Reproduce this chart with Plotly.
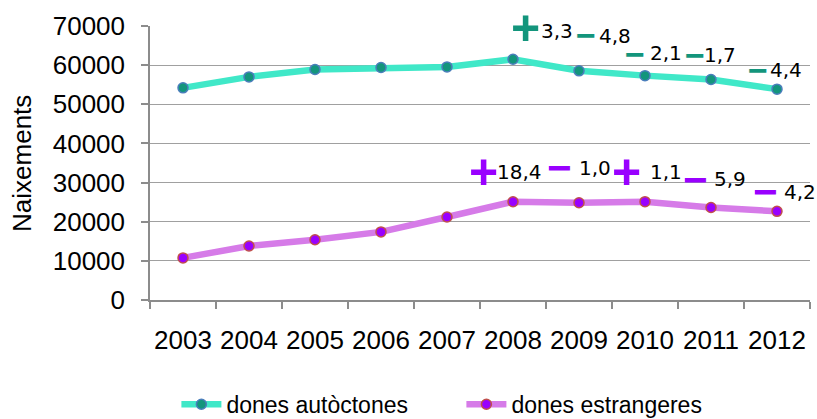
import plotly.graph_objects as go

years = ["2003", "2004", "2005", "2006", "2007", "2008", "2009", "2010", "2011", "2012"]
autoctones = [54200, 57000, 58900, 59400, 59550, 61500, 58550, 57320, 56345, 53870]
estrangeres = [10750, 13800, 15400, 17400, 21200, 25100, 24850, 25120, 23640, 22650]

# year-on-year % change labels (from 2008 onward)
label_years = ["2008", "2009", "2010", "2011", "2012"]
pct_autoctones = [3.3, -4.8, -2.1, -1.7, -4.4]
pct_estrangeres = [18.4, -1.0, 1.1, -5.9, -4.2]

y_ticks = [0, 10000, 20000, 30000, 40000, 50000, 60000, 70000]
y_title = "Naixements"

# pixel placement of the labels relative to their data point: (sym_dx, sym_dy, txt_dx, txt_dy)
place_aut = [(12, 31, 26, 28), (7, 36, 18, 35), (-10, 22, 3, 23), (-16, 24, -9, 24), (-19, 19, -9, 19)]
place_est = [(-30, 30, -18, 30), (-20, 35, -2, 35), (-19, 30, 3, 30), (-16, 28, 1, 28), (-12, 20, 5, 19)]

C_AUT_LINE = "#40E8C8"
C_AUT_FILL = "#13957C"
C_AUT_EDGE = "#4A7EBB"
C_EST_LINE = "#D67BE8"
C_EST_FILL = "#9900FF"
C_EST_EDGE = "#C0504D"
GRID = "#A0A0A0"
AX = "#8C8C8C"
FONT = "Liberation Sans, Arial, sans-serif"
LBL_FONT = "DejaVu Sans, sans-serif"

fig = go.Figure()
fig.add_trace(go.Scatter(
    x=years, y=autoctones, name="dones autòctones", mode="lines+markers",
    line=dict(color=C_AUT_LINE, width=6.5),
    marker=dict(size=10, color=C_AUT_FILL, line=dict(color=C_AUT_EDGE, width=1.5)),
))
fig.add_trace(go.Scatter(
    x=years, y=estrangeres, name="dones estrangeres", mode="lines+markers",
    line=dict(color=C_EST_LINE, width=6.5),
    marker=dict(size=10, color=C_EST_FILL, line=dict(color=C_EST_EDGE, width=1.5)),
))

def fmt(v):
    return f"{abs(v):.1f}".replace(".", ",")

for series, pcts, places, color, minus_size in [
    (autoctones, pct_autoctones, place_aut, C_AUT_FILL, 34),
    (estrangeres, pct_estrangeres, place_est, C_EST_FILL, 42),
]:
    for yr, p, (sdx, sdy, tdx, tdy) in zip(label_years, pcts, places):
        i = years.index(yr)
        yv = series[i]
        sym = "+" if p > 0 else "−"
        fig.add_annotation(
            x=i, y=yv, xref="x", yref="y", text="<b>" + sym + "</b>", showarrow=False,
            xanchor="center", yanchor="middle", xshift=sdx, yshift=sdy,
            font=dict(family=FONT, size=50 if p > 0 else minus_size, color=color),
        )
        fig.add_annotation(
            x=i, y=yv, xref="x", yref="y", text=fmt(p), showarrow=False,
            xanchor="left", yanchor="middle", xshift=tdx, yshift=tdy,
            font=dict(family=LBL_FONT, size=20, color="#000000"),
        )

# y-axis title placed as a rotated annotation
fig.add_annotation(
    x=-0.194, y=0.5, xref="paper", yref="paper", text=y_title, textangle=-90,
    showarrow=False, xanchor="center", yanchor="middle",
    font=dict(family=FONT, size=26, color="#000000"),
)

fig.update_layout(
    width=817, height=419,
    margin=dict(l=150, r=7, t=26, b=119, autoexpand=False),
    paper_bgcolor="white", plot_bgcolor="white",
    font=dict(family=FONT, size=26, color="#000000"),
    showlegend=True,
    legend=dict(orientation="h", x=0.04, y=-0.302, xanchor="left", yanchor="top",
                font=dict(family=FONT, size=23, color="#000000"),
                itemwidth=40, entrywidth=230, bgcolor="rgba(0,0,0,0)"),
)
fig.update_xaxes(
    type="category", range=[-0.5, 9.5], tickson="boundaries",
    ticks="outside", ticklen=7, tickcolor=AX, tickwidth=1.5,
    showline=True, linecolor=AX, linewidth=1.5, showgrid=False,
    tickangle=0,
    tickfont=dict(family=FONT, size=26, color="#000000"), ticklabelstandoff=16,
)
fig.update_yaxes(
    range=[0, 70000], tickvals=y_ticks, ticktext=[str(v) for v in y_ticks],
    ticks="outside", ticklen=7, tickcolor=AX, tickwidth=1.5,
    showline=True, linecolor=AX, linewidth=1.5,
    showgrid=True, gridcolor=GRID, gridwidth=1, zeroline=False,
    tickfont=dict(family=FONT, size=26, color="#000000"), ticklabelstandoff=11,
)

fig.write_html("out.html", config={"displayModeBar": False},
               post_script="document.body.style.margin='0';document.body.style.padding='0';")
